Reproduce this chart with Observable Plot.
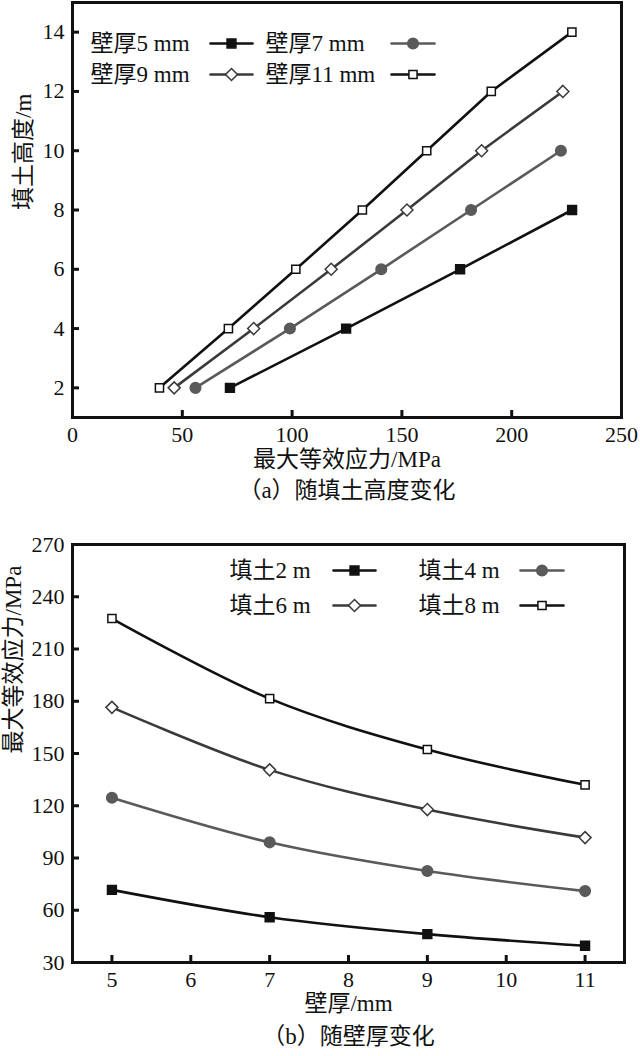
<!DOCTYPE html>
<html><head><meta charset="utf-8">
<script src="https://cdn.jsdelivr.net/npm/d3@7"></script>
<script src="https://cdn.jsdelivr.net/npm/@observablehq/plot@0.6"></script>
<style>body{margin:0;background:#fff} svg{display:block} svg text{font-family:"Liberation Serif","DejaVu Serif","Noto Sans CJK SC",serif !important;}</style>
</head><body><div id="chart"></div>
<script>
// ---- data ----
const fillHeights = [2, 4, 6, 8, 10, 12, 14];          // 填土高度 / m
const wallThicknesses = [5, 7, 9, 11];                 // 壁厚 / mm
const stressT5  = [71.7, 124.6, 176.5, 227.5];          // 壁厚5 mm
const stressT7  = [56.0, 99.0, 140.6, 181.5, 222.4];    // 壁厚7 mm
const stressT9  = [46.3, 82.5, 117.8, 152.3, 186.3, 223.3];       // 壁厚9 mm
const stressT11 = [39.6, 71.0, 101.7, 132.0, 161.3, 190.7, 227.4]; // 壁厚11 mm
const labelsA = ["壁厚5 mm", "壁厚7 mm", "壁厚9 mm", "壁厚11 mm"];
const labelsB = ["填土2 m", "填土4 m", "填土6 m", "填土8 m"];
const fillsB = [2, 4, 6, 8];
const ticksA_x = [0, 50, 100, 150, 200, 250];
const ticksA_y = [2, 4, 6, 8, 10, 12, 14];
const ticksB_x = [5, 6, 7, 8, 9, 10, 11];
const ticksB_y = [30, 60, 90, 120, 150, 180, 210, 240, 270];

// ---- tables ----
const byThickness = [stressT5, stressT7, stressT9, stressT11];
const rowsA = byThickness.flatMap((vals, i) => vals.map((v, j) => ({series: i, height: fillHeights[j], stress: v})));
const rowsB = fillsB.flatMap((f, k) => wallThicknesses.map((t, i) => ({series: k, thickness: t, stress: byThickness[i][fillHeights.indexOf(f)]})));

// ---- styles ----
const styles = [
  {stroke: "#111", symbol: "square", fill: "#111", r: 5.0},
  {stroke: "#5a5a5a", symbol: "circle", fill: "#5a5a5a", r: 5.3},
  {stroke: "#3a3a3a", symbol: "diamond2", fill: "#fff", r: 5.4},
  {stroke: "#111", symbol: "square", fill: "#fff", r: 4.6}
];
const FONT = "Liberation Serif";
const lineShape = {draw(ctx, l) { ctx.moveTo(0, 0); ctx.lineTo(0, -l); }};

function seriesMarks(rows, xk, yk, curve) {
  return styles.flatMap((s, i) => {
    const d = rows.filter(r => r.series === i);
    return [
      Plot.line(d, {x: xk, y: yk, stroke: s.stroke, strokeWidth: 2.6, curve}),
      Plot.dot(d, {x: xk, y: yk, symbol: s.symbol, r: s.r, fill: s.fill, stroke: s.stroke, strokeWidth: 1.5})
    ];
  });
}
function legendMarks(labels, pos) {
  return labels.flatMap((lab, i) => {
    const s = styles[i], p = pos[i];
    return [
      Plot.text([lab], {text: d => d, frameAnchor: "top-left", dx: p.tx, dy: p.y, textAnchor: "start", lineAnchor: "middle", fontSize: 23, fontFamily: FONT, fill: "#111"}),
      Plot.vector([0], {frameAnchor: "top-left", dx: p.lx, dy: p.y, length: p.len, rotate: 90, anchor: "middle", shape: lineShape, stroke: s.stroke, strokeWidth: 2.6}),
      Plot.dot([0], {frameAnchor: "top-left", dx: p.lx, dy: p.y, symbol: s.symbol, r: s.r, fill: s.fill, stroke: s.stroke, strokeWidth: 1.5})
    ];
  });
}
function label(t, opts) {
  return Plot.text([t], {text: d => d, fontSize: 23, fontFamily: FONT, fill: "#111", ...opts});
}

// ---- chart (a) ----
const innerA = {w: 640 - 72 - 19, h: 510 - 2 - 93};
const chartA = Plot.plot({
  width: 640, height: 510,
  marginLeft: 72, marginRight: 19, marginTop: 2, marginBottom: 93,
  style: {fontFamily: FONT, fontSize: "22px", color: "#111", background: "#fff"},
  x: {domain: [0, 250], label: null},
  y: {domain: [1, 15], label: null},
  marks: [
    Plot.axisX(ticksA_x, {tickSize: 0, tickPadding: 9, fontFamily: FONT, fontSize: 22, label: null}),
    Plot.axisY(ticksA_y, {tickSize: 0, tickPadding: 8, fontFamily: FONT, fontSize: 22, label: null}),
    Plot.tickX(ticksA_x.slice(1, -1), {x: d => d, insetTop: innerA.h - 7, stroke: "#111", strokeWidth: 3}),
    Plot.tickY(ticksA_y, {y: d => d, insetRight: innerA.w - 7, stroke: "#111", strokeWidth: 3}),
    ...seriesMarks(rowsA, "stress", "height", "linear"),
    ...legendMarks(labelsA, [
      {tx: 18, lx: 159, len: 42, y: 41},
      {tx: 193, lx: 340.5, len: 43, y: 41},
      {tx: 18, lx: 159, len: 42, y: 72},
      {tx: 193, lx: 340.5, len: 43, y: 72}
    ]),
    Plot.frame({stroke: "#111", strokeWidth: 3}),
    label("填土高度/m", {frameAnchor: "left", dx: -49, rotate: -90}),
    label("最大等效应力/MPa", {frameAnchor: "bottom", dy: 49}),
    label("（a）随填土高度变化", {frameAnchor: "bottom", dy: 80})
  ]
});

// ---- chart (b) ----
const innerB = {w: 640 - 72 - 16, h: 546 - 34 - 94};
const chartB = Plot.plot({
  width: 640, height: 546,
  marginLeft: 72, marginRight: 16, marginTop: 34, marginBottom: 94,
  style: {fontFamily: FONT, fontSize: "22px", color: "#111", background: "#fff"},
  x: {domain: [4.5, 11.5], label: null},
  y: {domain: [30, 270], label: null},
  marks: [
    Plot.axisX(ticksB_x, {tickSize: 0, tickPadding: 9, tickFormat: "d", fontFamily: FONT, fontSize: 22, label: null}),
    Plot.axisY(ticksB_y, {tickSize: 0, tickPadding: 8, tickFormat: "d", fontFamily: FONT, fontSize: 22, label: null}),
    Plot.tickX(ticksB_x, {x: d => d, insetTop: innerB.h - 7, stroke: "#111", strokeWidth: 3}),
    Plot.tickY(ticksB_y.slice(1, -1), {y: d => d, insetRight: innerB.w - 7, stroke: "#111", strokeWidth: 3}),
    ...seriesMarks(rowsB, "thickness", "stress", "catmull-rom"),
    ...legendMarks(labelsB, [
      {tx: 157, lx: 282, len: 42, y: 26},
      {tx: 346, lx: 469.5, len: 43, y: 26},
      {tx: 157, lx: 282, len: 42, y: 61},
      {tx: 346, lx: 469.5, len: 43, y: 61}
    ]),
    Plot.frame({stroke: "#111", strokeWidth: 3}),
    label("最大等效应力/MPa", {frameAnchor: "left", dx: -59, rotate: -90}),
    label("壁厚/mm", {frameAnchor: "bottom", dy: 48}),
    label("（b）随壁厚变化", {frameAnchor: "bottom", dy: 81})
  ]
});

const root = document.getElementById("chart");
root.append(chartA, chartB);
</script>
</body></html>
